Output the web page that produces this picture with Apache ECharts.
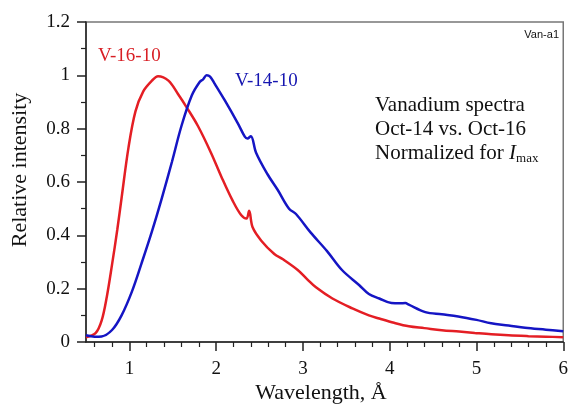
<!DOCTYPE html>
<html><head><meta charset="utf-8">
<script src="https://cdn.jsdelivr.net/npm/echarts@6/dist/echarts.min.js"></script>
<style>html,body{margin:0;padding:0;background:#fff}#c{width:571px;height:406px}</style>
</head><body><div id="c"></div>
<script>
// Wavelength (Å) and relative intensity
const v1610X = [0.5,0.61,0.68,0.74,0.80,0.86,0.91,0.99,1.07,1.16,1.26,1.33,1.45,1.56,1.66,1.79,1.94,2.06,2.19,2.29,2.35,2.38,2.42,2.52,2.67,2.77,2.94,3.05,3.15,3.34,3.57,3.76,3.88,4.05,4.22,4.40,4.60,4.80,4.98,5.17,5.37,5.60,5.80,6.0];
const v1610Y = [0.018,0.033,0.08,0.17,0.29,0.42,0.54,0.73,0.865,0.94,0.98,0.997,0.98,0.93,0.88,0.81,0.71,0.62,0.53,0.475,0.463,0.492,0.43,0.38,0.33,0.31,0.27,0.235,0.205,0.163,0.126,0.100,0.088,0.072,0.059,0.052,0.044,0.039,0.034,0.029,0.025,0.022,0.020,0.018];
const v1410X = [0.5,0.60,0.68,0.80,0.91,1.03,1.14,1.26,1.37,1.49,1.60,1.72,1.81,1.85,1.89,1.93,1.98,2.10,2.25,2.33,2.36,2.40,2.46,2.59,2.71,2.84,2.92,3.09,3.28,3.45,3.65,3.76,3.88,4.02,4.12,4.18,4.22,4.41,4.60,4.79,5.00,5.17,5.37,5.56,5.80,6.0];
const v1410Y = [0.025,0.02,0.021,0.045,0.10,0.19,0.295,0.415,0.535,0.675,0.81,0.925,0.975,0.985,1.0,0.995,0.97,0.906,0.82,0.77,0.763,0.772,0.71,0.63,0.57,0.50,0.48,0.41,0.34,0.27,0.213,0.18,0.163,0.146,0.145,0.146,0.14,0.112,0.104,0.096,0.083,0.07,0.062,0.053,0.046,0.040];
const xMajorTicks = [1,2,3,4,5,6];
const xMinorTicks = [0.6,0.8,1.2,1.4,1.6,1.8,2.2,2.4,2.6,2.8,3.2,3.4,3.6,3.8,4.2,4.4,4.6,4.8,5.2,5.4,5.6,5.8];
const yTicks = [0,0.2,0.4,0.6,0.8,1,1.2];

const serif = '"Liberation Serif","DejaVu Serif",serif';
const pair = (xs, ys) => xs.map((x, i) => [x, ys[i]]);
const chart = echarts.init(document.getElementById('c'), null, {renderer: 'canvas'});
chart.setOption({
  animation: false,
  backgroundColor: '#fff',
  grid: {left: 86, right: 6, top: 22, bottom: 64, show: true, borderColor: '#777', borderWidth: 1.5, backgroundColor: 'transparent'},
  xAxis: [{
    type: 'value', min: 0.5, max: 6,
    axisLine: {show: true, lineStyle: {color: '#222', width: 1.5}},
    axisTick: {show: true, customValues: xMajorTicks, length: 9, lineStyle: {color: '#222', width: 1.5}},
    axisLabel: {customValues: xMajorTicks, margin: 18, fontFamily: serif, fontSize: 19, color: '#111'},
    splitLine: {show: false}
  }, {
    type: 'value', min: 0.5, max: 6, position: 'bottom',
    axisLine: {show: false},
    axisTick: {show: true, customValues: xMinorTicks, length: 5, lineStyle: {color: '#222', width: 1.2}},
    axisLabel: {show: false},
    splitLine: {show: false}
  }],
  yAxis: {
    type: 'value', min: 0, max: 1.2, interval: 0.2,
    axisLine: {show: true, lineStyle: {color: '#222', width: 1.5}},
    axisTick: {show: true, length: 9, lineStyle: {color: '#222', width: 1.5}},
    minorTick: {show: true, splitNumber: 2, length: 5, lineStyle: {color: '#222', width: 1.2}},
    axisLabel: {margin: 16, fontFamily: serif, fontSize: 19, color: '#111', formatter: v => String(+v.toFixed(1))},
    splitLine: {show: false}
  },
  series: [
    {type: 'line', name: 'V-16-10', data: pair(v1610X, v1610Y), showSymbol: false, smooth: 0.35, lineStyle: {color: '#e41e24', width: 2.5}, itemStyle: {color: '#e41e24'}},
    {type: 'line', name: 'V-14-10', data: pair(v1410X, v1410Y), showSymbol: false, smooth: 0.35, lineStyle: {color: '#1515c4', width: 2.5}, itemStyle: {color: '#1515c4'}}
  ],
  graphic: [
    {type: 'text', left: 98, top: 47, style: {text: 'V-16-10', font: '19px ' + serif, fill: '#d81e24'}},
    {type: 'text', left: 235, top: 72, style: {text: 'V-14-10', font: '19px ' + serif, fill: '#1515b0'}},
    {type: 'text', right: 12, top: 29, style: {text: 'Van-a1', font: '11px "Liberation Sans", Arial, sans-serif', fill: '#111'}},
    {type: 'text', left: 375, top: 95, style: {text: 'Vanadium spectra', font: '21px ' + serif, fill: '#111'}},
    {type: 'text', left: 375, top: 119, style: {text: 'Oct-14 vs. Oct-16', font: '21px ' + serif, fill: '#111'}},
    {type: 'text', left: 375, top: 143, style: {
      text: 'Normalized for {i|I}{s|max}', font: '21px ' + serif, fill: '#111',
      rich: {i: {fontFamily: serif, fontSize: 21, fontStyle: 'italic', fill: '#111', color: '#111'},
             s: {fontFamily: serif, fontSize: 13, fill: '#111', color: '#111', padding: [10, 0, 0, 0]}}
    }},
    {type: 'text', x: 20, y: 170, rotation: Math.PI / 2, style: {text: 'Relative intensity', font: '22px ' + serif, fill: '#111', align: 'center', verticalAlign: 'middle'}},
    {type: 'text', x: 321, y: 393, style: {text: 'Wavelength, Å', font: '22px ' + serif, fill: '#111', align: 'center', verticalAlign: 'middle'}}
  ]
});
</script></body></html>
